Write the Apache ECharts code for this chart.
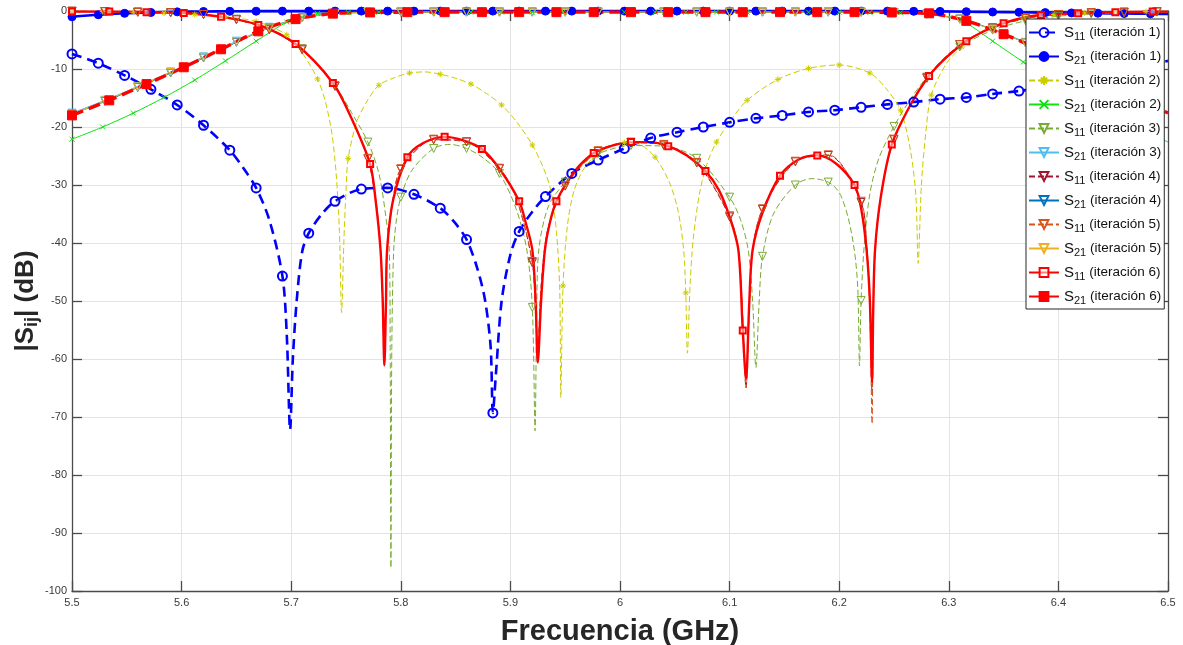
<!DOCTYPE html>
<html><head><meta charset="utf-8">
<script src="https://cdn.jsdelivr.net/npm/echarts@6/dist/echarts.min.js"></script>
<style>html,body{margin:0;padding:0;background:#fff}#c{width:1183px;height:645px}</style>
</head><body><div id="c"></div>
<script>
// ---------------- DATA: [frequency GHz, |S| dB] ----------------
const xAxisTitle = 'Frecuencia (GHz)';
const legendNames = [
  'S11 (iteración 1)','S21 (iteración 1)','S11 (iteración 2)','S21 (iteración 2)',
  'S11 (iteración 3)','S21 (iteración 3)','S11 (iteración 4)','S21 (iteración 4)',
  'S11 (iteración 5)','S21 (iteración 5)','S11 (iteración 6)','S21 (iteración 6)'
];

const s11_it1 = [[5.5,-7.4],[5.524,-9.0],[5.548,-11.1],[5.572,-13.5],[5.596,-16.2],[5.62,-19.7],[5.644,-24.0],[5.656,-27.0],[5.668,-30.5],[5.68,-36],[5.692,-45.7],[5.696,-56],[5.699,-72.2],[5.7015,-60],[5.705,-50],[5.71,-41.5],[5.716,-38.3],[5.728,-35.0],[5.74,-32.8],[5.764,-30.7],[5.788,-30.5],[5.812,-31.6],[5.836,-34.0],[5.848,-36.2],[5.86,-39.4],[5.87,-44.5],[5.877,-50],[5.882,-58],[5.884,-69.3],[5.887,-62],[5.892,-50],[5.9,-42],[5.908,-38.0],[5.92,-34.6],[5.932,-32.0],[5.956,-28.0],[5.98,-25.7],[6.004,-23.7],[6.028,-21.9],[6.052,-20.9],[6.076,-20.0],[6.1,-19.2],[6.124,-18.5],[6.148,-18.0],[6.172,-17.4],[6.196,-17.1],[6.22,-16.6],[6.244,-16.1],[6.268,-15.7],[6.292,-15.2],[6.316,-14.9],[6.34,-14.3],[6.364,-13.8],[6.388,-13.1],[6.412,-12.3],[6.436,-11.4],[6.46,-10.3],[6.484,-9.3],[6.5,-8.6]];

const s21_it1 = [[5.5,-1.0],[5.524,-0.65],[5.548,-0.4],[5.572,-0.25],[5.596,-0.15],[5.62,-0.08],[5.644,-0.05],[5.668,-0.03],[5.692,-0.02],[5.716,-0.02],[5.74,-0.02],[5.764,-0.02],[5.788,-0.02],[5.812,-0.02],[5.836,-0.02],[5.86,-0.02],[5.884,-0.02],[5.908,-0.02],[5.932,-0.02],[5.956,-0.02],[5.98,-0.02],[6.004,-0.02],[6.028,-0.02],[6.052,-0.02],[6.076,-0.02],[6.1,-0.02],[6.124,-0.02],[6.148,-0.02],[6.172,-0.02],[6.196,-0.02],[6.22,-0.02],[6.244,-0.03],[6.268,-0.05],[6.292,-0.07],[6.316,-0.12],[6.34,-0.17],[6.364,-0.22],[6.388,-0.28],[6.412,-0.33],[6.436,-0.38],[6.46,-0.43],[6.484,-0.48],[6.5,-0.5]];

const s11_it2 = [[5.5,-0.05],[5.528,-0.1],[5.556,-0.2],[5.584,-0.35],[5.612,-0.6],[5.64,-1.0],[5.668,-1.8],[5.696,-4.1],[5.71,-7.2],[5.724,-11.7],[5.731,-15.5],[5.737,-21],[5.741,-28],[5.744,-38],[5.746,-52],[5.748,-40],[5.75,-31],[5.752,-25.4],[5.76,-19],[5.77,-15.3],[5.78,-12.8],[5.794,-11.5],[5.808,-10.7],[5.822,-10.5],[5.836,-10.9],[5.85,-11.6],[5.864,-12.6],[5.878,-14.2],[5.892,-16.2],[5.906,-19.2],[5.92,-23.1],[5.93,-27],[5.937,-31],[5.942,-38],[5.945,-48],[5.946,-66.7],[5.948,-47.4],[5.952,-37],[5.958,-31],[5.966,-27.5],[5.976,-25.2],[5.99,-23.4],[6.004,-22.7],[6.018,-23.0],[6.032,-25.2],[6.045,-29.5],[6.053,-34.5],[6.058,-41],[6.06,-48.6],[6.0615,-59],[6.064,-47],[6.067,-39],[6.073,-31],[6.08,-26],[6.088,-22.6],[6.102,-18.6],[6.116,-15.4],[6.144,-11.8],[6.172,-9.9],[6.2,-9.3],[6.228,-10.7],[6.242,-13.2],[6.256,-17.1],[6.265,-24],[6.27,-32],[6.272,-43.5],[6.275,-30],[6.279,-21],[6.284,-14.5],[6.298,-9.0],[6.312,-6.2],[6.326,-4.0],[6.34,-2.6],[6.368,-1.2],[6.396,-0.6],[6.424,-0.35],[6.452,-0.2],[6.48,-0.1],[6.5,-0.1]];

const s21_it2 = [[5.5,-22.1],[5.528,-20.0],[5.556,-17.6],[5.584,-14.9],[5.612,-11.9],[5.64,-8.6],[5.668,-5.2],[5.696,-1.9],[5.71,-0.9],[5.724,-0.45],[5.752,-0.25],[5.78,-0.2],[5.808,-0.2],[5.836,-0.2],[5.864,-0.2],[5.892,-0.2],[5.92,-0.2],[5.948,-0.2],[5.976,-0.2],[6.004,-0.2],[6.032,-0.2],[6.06,-0.2],[6.088,-0.2],[6.116,-0.2],[6.144,-0.2],[6.172,-0.2],[6.2,-0.2],[6.228,-0.25],[6.256,-0.3],[6.27,-0.4],[6.284,-0.55],[6.298,-0.95],[6.312,-1.6],[6.34,-5.2],[6.368,-8.8],[6.396,-12.2],[6.424,-15.3],[6.452,-18.1],[6.48,-20.8],[6.5,-22.6]];

const s11_it3 = [[5.5,-0.05],[5.53,-0.1],[5.56,-0.2],[5.59,-0.3],[5.62,-0.6],[5.65,-1.4],[5.68,-3.0],[5.71,-6.5],[5.74,-12.9],[5.755,-17.5],[5.77,-22.6],[5.78,-28],[5.786,-35],[5.7895,-41.2],[5.7903,-58],[5.791,-96],[5.7918,-58],[5.7935,-41.2],[5.796,-36],[5.8,-32.1],[5.81,-27.5],[5.83,-23.7],[5.845,-23.0],[5.86,-23.7],[5.875,-25.3],[5.89,-28.0],[5.905,-34.0],[5.915,-41.2],[5.92,-51.1],[5.9225,-72.4],[5.924,-52],[5.926,-41],[5.935,-33.5],[5.95,-29.5],[5.965,-26.5],[5.98,-24.6],[6.01,-23.2],[6.04,-23.3],[6.07,-25.4],[6.1,-32.1],[6.11,-36],[6.117,-41.2],[6.121,-50],[6.124,-61.5],[6.127,-50],[6.13,-42.3],[6.14,-35],[6.16,-30.0],[6.175,-28.9],[6.19,-29.5],[6.2,-31.3],[6.208,-35.5],[6.214,-41.5],[6.217,-48],[6.2185,-61.2],[6.22,-49.9],[6.223,-40],[6.228,-31.5],[6.236,-25.5],[6.25,-19.9],[6.265,-15.2],[6.28,-11.4],[6.295,-8.5],[6.31,-6.2],[6.34,-3.3],[6.37,-1.7],[6.4,-0.9],[6.43,-0.5],[6.46,-0.3],[6.49,-0.2],[6.5,-0.2]];

const s21_it3 = [[5.5,-17.6],[5.53,-15.4],[5.56,-13.0],[5.59,-10.5],[5.62,-7.9],[5.65,-5.2],[5.68,-2.8],[5.71,-1.1],[5.74,-0.4],[5.77,-0.2],[5.8,-0.15],[5.83,-0.15],[5.86,-0.15],[5.89,-0.15],[5.92,-0.15],[5.95,-0.15],[5.98,-0.15],[6.01,-0.15],[6.04,-0.15],[6.07,-0.15],[6.1,-0.15],[6.13,-0.15],[6.16,-0.15],[6.19,-0.15],[6.22,-0.2],[6.25,-0.25],[6.28,-0.5],[6.31,-1.4],[6.34,-3.1],[6.37,-5.4],[6.4,-8.1],[6.43,-10.9],[6.46,-13.8],[6.49,-16.7],[6.5,-17.6]];

const s11_it4 = [[5.5,-0.05],[5.53,-0.1],[5.56,-0.2],[5.59,-0.3],[5.62,-0.6],[5.65,-1.5],[5.68,-3.2],[5.71,-6.7],[5.74,-13.0],[5.755,-18.5],[5.77,-25.5],[5.777,-32.4],[5.7815,-41],[5.7835,-50],[5.785,-61],[5.7865,-50],[5.7875,-41],[5.793,-32.4],[5.8,-27.3],[5.83,-22.2],[5.86,-22.6],[5.89,-27.2],[5.905,-32],[5.92,-43.4],[5.923,-52],[5.925,-60],[5.927,-51],[5.93,-43],[5.935,-37],[5.95,-30.2],[5.98,-24.2],[6.01,-22.7],[6.04,-23.1],[6.07,-26.2],[6.1,-35.5],[6.108,-41.2],[6.112,-53],[6.115,-65],[6.118,-51],[6.121,-41.2],[6.13,-34.2],[6.16,-26.0],[6.19,-24.9],[6.22,-33],[6.225,-40.5],[6.228,-50],[6.23,-66],[6.231,-53],[6.2327,-41.5],[6.238,-32],[6.25,-22.2],[6.28,-11.6],[6.31,-5.8],[6.34,-2.9],[6.37,-1.3],[6.4,-0.6],[6.43,-0.3],[6.46,-0.2],[6.49,-0.1],[6.5,-0.1]];

const s21_it4 = [[5.5,-17.8],[5.53,-15.6],[5.56,-13.2],[5.59,-10.7],[5.62,-8.1],[5.65,-5.4],[5.68,-2.9],[5.71,-1.2],[5.74,-0.45],[5.77,-0.25],[5.8,-0.2],[5.83,-0.2],[5.86,-0.2],[5.89,-0.2],[5.92,-0.2],[5.95,-0.2],[5.98,-0.2],[6.01,-0.2],[6.04,-0.2],[6.07,-0.2],[6.1,-0.2],[6.13,-0.2],[6.16,-0.2],[6.19,-0.2],[6.22,-0.2],[6.25,-0.3],[6.28,-0.55],[6.31,-1.4],[6.34,-3.2],[6.37,-5.5],[6.4,-8.2],[6.43,-11.0],[6.46,-13.9],[6.49,-16.8],[6.5,-17.7]];

const s11_it5 = [[5.5,-0.05],[5.53,-0.1],[5.56,-0.2],[5.59,-0.3],[5.62,-0.6],[5.65,-1.5],[5.68,-3.2],[5.71,-6.6],[5.74,-12.9],[5.755,-18.4],[5.77,-25.4],[5.777,-32.3],[5.7815,-41],[5.7835,-50],[5.785,-61],[5.7865,-50],[5.7875,-41],[5.793,-32.3],[5.8,-27.2],[5.83,-22.1],[5.86,-22.5],[5.89,-27.1],[5.905,-32],[5.92,-43.2],[5.923,-52],[5.925,-60],[5.927,-51],[5.93,-43],[5.935,-37],[5.95,-30.1],[5.98,-24.1],[6.01,-22.6],[6.04,-23.0],[6.07,-26.1],[6.1,-35.3],[6.108,-41.2],[6.112,-53],[6.115,-65],[6.118,-51],[6.121,-41.2],[6.13,-34.1],[6.16,-25.9],[6.19,-24.8],[6.22,-32.8],[6.225,-40.5],[6.228,-52],[6.23,-71.2],[6.231,-54],[6.2327,-41.5],[6.238,-32],[6.25,-22.1],[6.28,-11.5],[6.31,-5.8],[6.34,-2.9],[6.37,-1.3],[6.4,-0.6],[6.43,-0.3],[6.46,-0.2],[6.49,-0.1],[6.5,-0.1]];

const s21_it5 = [[5.5,-17.8],[5.53,-15.5],[5.56,-13.1],[5.59,-10.6],[5.62,-8.0],[5.65,-5.3],[5.68,-2.9],[5.71,-1.2],[5.74,-0.45],[5.77,-0.25],[5.8,-0.2],[5.83,-0.2],[5.86,-0.2],[5.89,-0.2],[5.92,-0.2],[5.95,-0.2],[5.98,-0.2],[6.01,-0.2],[6.04,-0.2],[6.07,-0.2],[6.1,-0.2],[6.13,-0.2],[6.16,-0.2],[6.19,-0.2],[6.22,-0.2],[6.25,-0.3],[6.28,-0.5],[6.31,-1.4],[6.34,-3.2],[6.37,-5.5],[6.4,-8.2],[6.43,-11.0],[6.46,-13.9],[6.49,-16.8],[6.5,-17.7]];

const s11_it6 = [[5.5,-0.1],[5.534,-0.1],[5.568,-0.2],[5.602,-0.35],[5.636,-1.0],[5.67,-2.4],[5.704,-5.7],[5.738,-12.4],[5.755,-18.5],[5.772,-26.4],[5.777,-32.6],[5.7815,-41.2],[5.7835,-50],[5.785,-61.1],[5.7865,-50],[5.7875,-41.2],[5.793,-32.6],[5.806,-25.2],[5.82,-22.8],[5.84,-21.7],[5.857,-22.3],[5.874,-23.8],[5.89,-27.2],[5.908,-32.8],[5.914,-36.5],[5.92,-41.2],[5.923,-50],[5.925,-60.6],[5.928,-50],[5.9315,-41.2],[5.936,-36.5],[5.942,-32.8],[5.958,-27.8],[5.976,-24.5],[5.993,-23.2],[6.01,-22.6],[6.027,-22.6],[6.044,-23.3],[6.061,-24.9],[6.078,-27.6],[6.09,-30.8],[6.1,-35.5],[6.108,-41.2],[6.112,-55.1],[6.115,-63.4],[6.118,-50],[6.121,-41.2],[6.13,-34.8],[6.146,-28.4],[6.163,-25.6],[6.18,-24.9],[6.197,-26.3],[6.214,-30.0],[6.22,-34],[6.225,-41.2],[6.228,-50],[6.23,-64.0],[6.231,-52],[6.2327,-41.2],[6.238,-32],[6.248,-23.0],[6.265,-16.2],[6.282,-11.2],[6.299,-7.8],[6.316,-5.2],[6.333,-3.4],[6.35,-2.1],[6.367,-1.2],[6.384,-0.7],[6.418,-0.4],[6.452,-0.2],[6.486,-0.1],[6.5,-0.1]];

const s21_it6 = [[5.5,-18.0],[5.534,-15.4],[5.568,-12.6],[5.602,-9.7],[5.636,-6.6],[5.67,-3.5],[5.704,-1.4],[5.738,-0.45],[5.772,-0.25],[5.806,-0.2],[5.84,-0.2],[5.874,-0.2],[5.908,-0.2],[5.942,-0.2],[5.976,-0.2],[6.01,-0.2],[6.044,-0.2],[6.078,-0.2],[6.112,-0.2],[6.146,-0.2],[6.18,-0.2],[6.214,-0.2],[6.248,-0.25],[6.282,-0.4],[6.316,-1.7],[6.35,-4.0],[6.384,-6.7],[6.418,-9.8],[6.452,-12.9],[6.486,-16.3],[6.5,-17.6]];

const seriesData = [s11_it1, s21_it1, s11_it2, s21_it2, s11_it3, s21_it3, s11_it4, s21_it4, s11_it5, s21_it5, s11_it6, s21_it6];

// ---------------- STYLES ----------------
const FONT = "'Liberation Sans', Arial, Helvetica, sans-serif";
const STAR = 'path://M5,0L5,10M0,5L10,5M1.5,1.5L8.5,8.5M8.5,1.5L1.5,8.5';
const CROSS = 'path://M0,0L10,10M10,0L0,10';
const styles = [
  {color:'#0000ff', width:2.6, dash:[10,6], symbol:'circle', size:9, fill:'rgba(0,0,0,0)', bw:2, step:0.024},
  {color:'#0000ff', width:2.6, dash:null, symbol:'circle', size:8, fill:'#0000ff', bw:1, step:0.024},
  {color:'#cccc00', width:1, dash:[6,3], symbol:STAR, size:6, fill:'rgba(0,0,0,0)', bw:1, step:0.028},
  {color:'#11e011', width:1, dash:null, symbol:CROSS, size:5, fill:'rgba(0,0,0,0)', bw:1, step:0.028},
  {color:'#77AC30', width:1, dash:[6,3], symbol:'triangle', rot:180, size:8, fill:'rgba(0,0,0,0)', bw:1, step:0.03},
  {color:'#4DBEEE', width:1, dash:null, symbol:'triangle', rot:180, size:8, fill:'rgba(0,0,0,0)', bw:1, step:0.03},
  {color:'#A2142F', width:1, dash:[6,3], symbol:'triangle', rot:180, size:8, fill:'rgba(0,0,0,0)', bw:1, step:0.03},
  {color:'#0072BD', width:1, dash:null, symbol:'triangle', rot:180, size:8, fill:'rgba(0,0,0,0)', bw:1, step:0.03},
  {color:'#D95319', width:1, dash:[6,3], symbol:'triangle', rot:180, size:8, fill:'rgba(0,0,0,0)', bw:1, step:0.03},
  {color:'#EDB120', width:1, dash:null, symbol:'triangle', rot:180, size:8, fill:'rgba(0,0,0,0)', bw:1, step:0.03},
  {color:'#ff0000', width:2.4, dash:null, symbol:'rect', size:6, fill:'rgba(255,255,255,0.5)', bw:2, step:0.034},
  {color:'#ff0000', width:3.4, dash:[12,6], symbol:'rect', size:9, fill:'#ff0000', bw:1, step:0.034}
];

function isMarker(x, step) { const k = (x - 5.5) / step; return Math.abs(k - Math.round(k)) < 0.01; }

const series = seriesData.map((d, i) => {
  const st = styles[i];
  return {
    type: 'line', name: legendNames[i],
    data: d.map(p => isMarker(p[0], st.step) ? { value: p } : { value: p, symbol: 'none' }),
    smooth: 0.3, showAllSymbol: true, clip: false, silent: true,
    symbol: st.symbol, symbolSize: st.size, symbolRotate: st.rot || 0,
    lineStyle: { color: st.color, width: st.width, type: st.dash || 'solid' },
    itemStyle: { color: st.fill, borderColor: st.color, borderWidth: st.bw },
    emphasis: { disabled: true },
    animation: false
  };
});

const axisCol = '#4a4a4a';
const chart = echarts.init(document.getElementById('c'), null, { renderer: 'canvas' });
chart.setOption({
  animation: false,
  backgroundColor: '#fff',
  textStyle: { fontFamily: FONT },
  grid: { left: 72, right: 15, top: 11, bottom: 54, containLabel: false, outerBoundsMode: 'none' },
  xAxis: [{
    type: 'value', min: 5.5, max: 6.5, interval: 0.1, position: 'bottom',
    axisLine: { show: true, onZero: false, lineStyle: { color: axisCol, width: 1.3 } },
    axisTick: { show: true, inside: true, length: 10, lineStyle: { color: axisCol, width: 1.3 } },
    splitLine: { show: true, lineStyle: { color: '#e3e3e3', width: 1 } },
    axisLabel: { color: '#3a3a3a', fontSize: 11, margin: 6, fontFamily: FONT },
    name: xAxisTitle, nameLocation: 'middle', nameGap: 26, nameMoveOverlap: false,
    nameTextStyle: { fontSize: 29, fontWeight: 'bold', color: '#262626', fontFamily: FONT }
  }, {
    type: 'value', min: 5.5, max: 6.5, interval: 0.1, position: 'top',
    axisLine: { show: true, onZero: false, lineStyle: { color: axisCol, width: 1.3 } },
    axisTick: { show: true, inside: true, length: 10, lineStyle: { color: axisCol, width: 1.3 } },
    splitLine: { show: false }, axisLabel: { show: false }
  }],
  yAxis: [{
    type: 'value', min: -100, max: 0, interval: 10, position: 'left',
    axisLine: { show: true, onZero: false, lineStyle: { color: axisCol, width: 1.3 } },
    axisTick: { show: true, inside: true, length: 10, lineStyle: { color: axisCol, width: 1.3 } },
    splitLine: { show: true, lineStyle: { color: '#e3e3e3', width: 1 } },
    axisLabel: { color: '#3a3a3a', fontSize: 11, margin: 5, fontFamily: FONT },
    name: '{a||S}{b|ij}{a|| (dB)}', nameLocation: 'middle', nameGap: 31, nameRotate: 90, nameMoveOverlap: false,
    nameTextStyle: {
      color: '#262626', fontFamily: FONT,
      rich: {
        a: { fontSize: 26, fontWeight: 'bold', color: '#262626', fontFamily: FONT },
        b: { fontSize: 18, fontWeight: 'bold', color: '#262626', fontFamily: FONT, padding: [12, 0, 0, 0] }
      }
    }
  }, {
    type: 'value', min: -100, max: 0, interval: 10, position: 'right',
    axisLine: { show: true, onZero: false, lineStyle: { color: axisCol, width: 1.3 } },
    axisTick: { show: true, inside: true, length: 10, lineStyle: { color: axisCol, width: 1.3 } },
    splitLine: { show: false }, axisLabel: { show: false }
  }],
  legend: {
    orient: 'vertical', left: 1026, top: 19, selectedMode: false,
    itemWidth: 30, itemHeight: 11, itemGap: 7,
    padding: [6, 3, 3, 2],
    backgroundColor: '#fff', borderColor: '#262626', borderWidth: 1, borderRadius: 0,
    data: legendNames,
    formatter: n => { const m = n.match(/^S(\d\d) (.*)$/); return '{s|S}{sub|' + m[1] + '}{t| ' + m[2] + '}'; },
    textStyle: {
      color: '#111', fontFamily: FONT,
      rich: {
        s: { fontSize: 15, color: '#111', fontFamily: FONT },
        sub: { fontSize: 11, color: '#111', fontFamily: FONT, padding: [8, 0, 0, 0] },
        t: { fontSize: 13.5, color: '#111', fontFamily: FONT }
      }
    }
  },
  series: series
});
</script>
</body></html>
